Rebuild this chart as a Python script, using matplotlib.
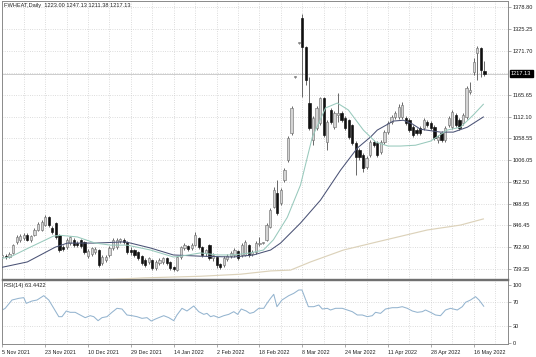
import numpy as np
import matplotlib
matplotlib.use("Agg")
import matplotlib.pyplot as plt
from matplotlib.transforms import blended_transform_factory

# daily bars (index = bar number from 5 Nov 2021)
opens = [769, 771, 769, 779, 806, 811, 815, 823, 811, 823,
         835, 835, 847, 867, 840, 852, 823, 793, 793, 803,
         811, 803, 811, 806, 771, 776, 781, 786, 754, 762,
         774, 791, 793, 808, 811, 806, 786, 786, 781, 771,
         762, 757, 762, 742, 754, 757, 767, 757, 745, 737,
         769, 791, 796, 791, 798, 815, 793, 779, 798, 767,
         769, 752, 750, 764, 771, 774, 784, 774, 774, 798,
         776, 781, 801, 803, 811, 842, 891, 925, 901, 957,
         1006, 1072, 1209, 1292, 1353, 1282, 1145, 1055, 1084, 1096,
         1157, 1050, 1128, 1086, 1116, 1121, 1108, 1104, 1091, 1047,
         1030, 1018, 989, 1018, 1050, 1047, 1025, 1050, 1074, 1099,
         1111, 1111, 1111, 1108, 1104, 1086, 1079, 1084, 1084, 1099,
         1096, 1086, 1055, 1072, 1055, 1091, 1086, 1116, 1104, 1096,
         1111, 1172, 1221, 1267, 1279, 1223.00]
closes = [774, 769, 776, 798, 818, 820, 823, 811, 820, 835,
          850, 855, 867, 847, 830, 818, 786, 789, 811, 818,
          798, 798, 796, 781, 784, 791, 789, 750, 769, 769,
          791, 811, 811, 813, 806, 781, 781, 774, 767, 754,
          750, 767, 742, 757, 762, 767, 754, 742, 740, 769,
          793, 798, 789, 798, 823, 793, 774, 786, 767, 774,
          750, 745, 767, 771, 779, 786, 767, 798, 806, 774,
          781, 803, 803, 804, 847, 884, 933, 877, 933, 981,
          1060, 1133, 1209, 1292, 1282, 1201, 1084, 1108, 1133, 1157,
          1067, 1099, 1099, 1121, 1121, 1104, 1084, 1062, 1047, 1013,
          1013, 986, 1011, 1050, 1043, 1018, 1050, 1074, 1096, 1111,
          1121, 1135, 1140, 1096, 1079, 1067, 1072, 1072, 1104, 1091,
          1084, 1060, 1062, 1055, 1084, 1108, 1123, 1091, 1084, 1116,
          1182, 1177, 1245, 1279, 1226, 1217.13]
highs = [779, 776, 781, 801, 823, 825, 828, 828, 823, 840,
         855, 859, 872, 869, 845, 855, 825, 798, 815, 820,
         815, 808, 813, 808, 789, 793, 793, 789, 774, 774,
         796, 815, 815, 815, 815, 808, 793, 789, 784, 774,
         767, 769, 764, 762, 767, 769, 769, 759, 747, 771,
         796, 803, 798, 803, 830, 818, 796, 789, 801, 779,
         771, 754, 771, 776, 784, 791, 786, 803, 811, 801,
         786, 808, 818, 806, 852, 889, 940, 957, 938, 986,
         1064, 1138, 1211, 1294, 1362, 1284, 1209, 1113, 1138, 1160,
         1160, 1104, 1133, 1126, 1170, 1126, 1113, 1106, 1094, 1052,
         1035, 1023, 1016, 1055, 1055, 1052, 1055, 1079, 1101, 1116,
         1126, 1143, 1148, 1113, 1108, 1091, 1084, 1089, 1108, 1104,
         1101, 1091, 1067, 1077, 1089, 1113, 1128, 1121, 1108, 1121,
         1187, 1196, 1255, 1284, 1282, 1247.13]
lows = [764, 764, 767, 776, 801, 806, 811, 808, 806, 820,
        833, 833, 845, 842, 825, 813, 781, 784, 789, 798,
        793, 793, 791, 776, 767, 771, 776, 745, 750, 757,
        769, 786, 789, 803, 801, 776, 774, 769, 762, 750,
        745, 752, 737, 737, 750, 752, 750, 737, 735, 735,
        764, 786, 784, 786, 796, 789, 769, 771, 762, 759,
        742, 740, 745, 759, 767, 769, 762, 769, 771, 769,
        771, 776, 796, 801, 808, 840, 889, 872, 896, 952,
        1001, 1067, 1206, 1289, 1160, 1189, 1079, 1043, 1079, 1091,
        1062, 1030, 1094, 1082, 1099, 1099, 1079, 1057, 1043, 969,
        1006, 977, 984, 1013, 1038, 1013, 1021, 1045, 1069, 1094,
        1106, 1106, 1106, 1091, 1074, 1062, 1067, 1067, 1079, 1086,
        1079, 1055, 1047, 1050, 1050, 1086, 1082, 1086, 1079, 1091,
        1106, 1167, 1213, 1201, 1209, 1211.38]

# moving averages, sampled along the chart (bar position, price)
fast_ma_x = [0, 2.2, 7.8, 14.3, 16.2, 21, 26, 30.3, 35, 41.5,
             47.9, 49.9, 55.5, 60.2, 64.7, 69.5, 73.1, 75.9, 79.8, 83.5,
             86.8, 90.5, 93.8, 96.9, 101.1, 104.5, 108, 111.5, 115.7, 119.9,
             124.6, 128.3, 131.9, 134.7]
fast_ma = [766, 769, 793, 820, 822, 818, 803, 798, 798, 786,
           769, 771, 779, 774, 774, 779, 786, 811, 866, 945,
           1062, 1133, 1145, 1128, 1079, 1050, 1040, 1040, 1042, 1052,
           1079, 1086, 1116, 1142]
mid_ma_x = [0, 7, 14.8, 18.2, 26, 34.5, 41.5, 47.9, 55.5, 64.7,
            70.3, 75.1, 77.9, 83.5, 89.1, 94.7, 99.4, 103.1, 105, 109.5,
            112.3, 114.8, 117.1, 122.7, 126.3, 130.2, 134.7]
mid_ma = [744, 757, 793, 803, 803, 806, 791, 774, 771, 769,
          774, 786, 803, 852, 908, 981, 1035, 1062, 1079, 1101,
          1103, 1094, 1081, 1074, 1074, 1086, 1111]
slow_ma_x = [27.5, 39.5, 55.5, 66.7, 75.1, 80.7, 86.3, 95.5, 105, 119, 128.3, 134.7]
slow_ma = [713, 718, 722, 727, 735, 737, 757, 786, 806, 835, 847, 862]

# RSI(14)
rsi_x = [0, 0.8, 2.7, 4.6, 6, 6.7, 8.3, 9.7, 11.6, 13,
         14.4, 15.8, 16.7, 17.9, 19, 20.4, 21.8, 23.2, 24.6, 25.6,
         26.8, 27.9, 29.3, 30.7, 32.1, 33.5, 34.9, 36.3, 37.7, 39.1,
         40.5, 41.7, 42.9, 43.8, 45.2, 46.6, 48, 48.9, 50.3, 51.7,
         53.6, 55, 56.4, 57.3, 58.3, 59.2, 60.6, 62, 63.4, 64.8,
         65.9, 66.9, 68.3, 69.3, 70.4, 71.8, 73.2, 74.1, 75.1, 76,
         76.9, 78.3, 80.2, 81.6, 83, 83.9, 85.7, 87.2, 88.6, 89.6,
         91, 91.9, 93.3, 95.2, 96.6, 98, 99.4, 100.8, 102.2, 103.6,
         104.5, 105.9, 107.3, 109.2, 110.6, 112, 113.4, 114.8, 116.2, 117.6,
         118.5, 119.9, 121.3, 122.7, 124.1, 125.5, 127.4, 128.8, 129.7, 131.1,
         132.5, 133.5, 134.8]
rsi = [56.9, 59.8, 74.1, 77, 78.2, 68.4, 72.4, 74.1, 81.6, 74.1,
       59.8, 45.4, 45.4, 55.2, 52.9, 52.9, 48.3, 43.7, 47.1, 45.4,
       38.5, 43.7, 45.4, 52.9, 59.8, 58.6, 48.3, 47.1, 45.4, 42.5,
       43.7, 37.9, 41.4, 43.7, 47.1, 43.7, 38.5, 48.3, 59.8, 55.2,
       63.8, 54, 49.4, 51.1, 45.4, 47.1, 43.7, 47.1, 49.4, 54,
       49.4, 58.6, 55.2, 51.1, 52.9, 59.8, 59.8, 68.4, 77, 83.9,
       62.6, 74.1, 81.6, 85.6, 91.4, 91.4, 62.6, 62.6, 65.5, 58.6,
       59.8, 56.9, 59.8, 59.8, 56.9, 54, 48.3, 48.3, 45.4, 47.1,
       52.9, 51.1, 58.6, 60.9, 60.9, 62.6, 59.8, 55.2, 52.9, 54,
       56.9, 52.9, 48.3, 47.1, 56.9, 59.8, 56.9, 62.6, 70.1, 74.1,
       79.9, 74.1, 63.4]
rsi_label = "RSI(14) 63.4422"

price_ticks = [739.35, 792.90, 846.45, 898.95, 952.50, 1006.05, 1058.55,
               1112.10, 1165.65, 1271.70, 1325.25, 1378.80]
price_grid = price_ticks + [1218.15]
rsi_ticks = [0, 30, 70, 100]
date_pos = [0, 12, 24, 36, 48, 60, 72, 84, 96, 108, 120, 132]
date_labels = ["5 Nov 2021", "23 Nov 2021", "10 Dec 2021", "29 Dec 2021",
               "14 Jan 2022", "2 Feb 2022", "18 Feb 2022", "8 Mar 2022",
               "24 Mar 2022", "11 Apr 2022", "28 Apr 2022", "16 May 2022"]

plt.rcParams['font.family'] = ['Liberation Sans', 'DejaVu Sans']
W, H = 536, 357
fig = plt.figure(figsize=(W / 100, H / 100), dpi=100)
ax = fig.add_axes([2 / W, 1 - 279 / H, 506 / W, 278 / H])
axr = fig.add_axes([2 / W, 1 - 344 / H, 506 / W, 64 / H], sharex=ax)

grid_kw = dict(color='#c8c8c8', lw=0.55, ls=(0, (1, 2)), zorder=0)
for a in (ax, axr):
    for gx in range(6, 142, 6):
        a.axvline(gx, **grid_kw)
for p in price_grid:
    ax.axhline(p, **grid_kw)
for lv in (30, 70):
    axr.axhline(lv, **grid_kw)

o = np.array(opens, float)
c = np.array(closes, float)
hi = np.array(highs, float)
lo = np.array(lows, float)
x = np.arange(len(o))
up = c >= o

# last price line
ax.axhline(c[-1], color='#c0c0c0', lw=0.55, zorder=1)

ax.vlines(x, lo, hi, color='#505050', lw=0.6, zorder=2)
body_lo = np.minimum(o, c)
body_h = np.maximum(np.abs(c - o), 1.8)
ax.bar(x[up], body_h[up], bottom=body_lo[up], width=0.62,
       color='#d4d4d4', edgecolor='#757575', lw=0.45, zorder=3)
ax.bar(x[~up], body_h[~up], bottom=body_lo[~up], width=0.62,
       color='#101010', edgecolor='#101010', lw=0.45, zorder=3)

ax.plot(slow_ma_x, slow_ma, color='#dcd2ba', lw=0.85, zorder=4)
ax.plot(mid_ma_x, mid_ma, color='#4a5275', lw=0.75, zorder=4)
ax.plot(fast_ma_x, fast_ma, color='#98c9bc', lw=0.75, zorder=4)

axr.plot(rsi_x, rsi, color='#94b4cf', lw=0.75)

ax.set_xlim(-0.1, 141.6)
ax.set_ylim(715.3, 1394.2)
axr.set_ylim(-1.7, 108.6)

for a in (ax, axr):
    a.yaxis.tick_right()
    for s in a.spines.values():
        s.set_color('#8a8a8a')
        s.set_linewidth(0.7)
    a.tick_params(axis='y', length=2, width=0.5, pad=1.5, labelsize=4.1,
                  colors='#8a8a8a', labelcolor='#202020')
ax.spines['bottom'].set_linewidth(1.0)
ax.spines['bottom'].set_color('#707070')
axr.spines['top'].set_linewidth(1.0)
axr.spines['top'].set_color('#707070')

ax.set_yticks(price_ticks)
ax.set_yticklabels([f"{p:.2f}" for p in price_ticks])
axr.set_yticks(rsi_ticks)
axr.set_yticklabels([str(t) for t in rsi_ticks])

ax.tick_params(axis='x', bottom=False, labelbottom=False)
axr.set_xticks(date_pos)
axr.set_xticklabels(date_labels, ha='left')
axr.tick_params(axis='x', length=2, width=0.5, pad=2.5, labelsize=3.9,
                colors='#8a8a8a', labelcolor='#202020')

trans = blended_transform_factory(ax.transAxes, ax.transData)
ax.text(1.006, c[-1], f"{c[-1]:.2f}", transform=trans, ha='left', va='center',
        fontsize=4.1, color='white', clip_on=False,
        bbox=dict(boxstyle='square,pad=0.22', fc='black', ec='black'))

fig.text(4 / W, 1 - 6 / H,
         f"FWHEAT,Daily  {o[-1]:.2f} {hi[-1]:.2f} {lo[-1]:.2f} {c[-1]:.2f}",
         fontsize=4.1, color='#202020', va='center', ha='left')
fig.text(4 / W, 1 - 285 / H, rsi_label, fontsize=4.1, color='#202020',
         va='center', ha='left')

fig.savefig("out.png", dpi=100)
